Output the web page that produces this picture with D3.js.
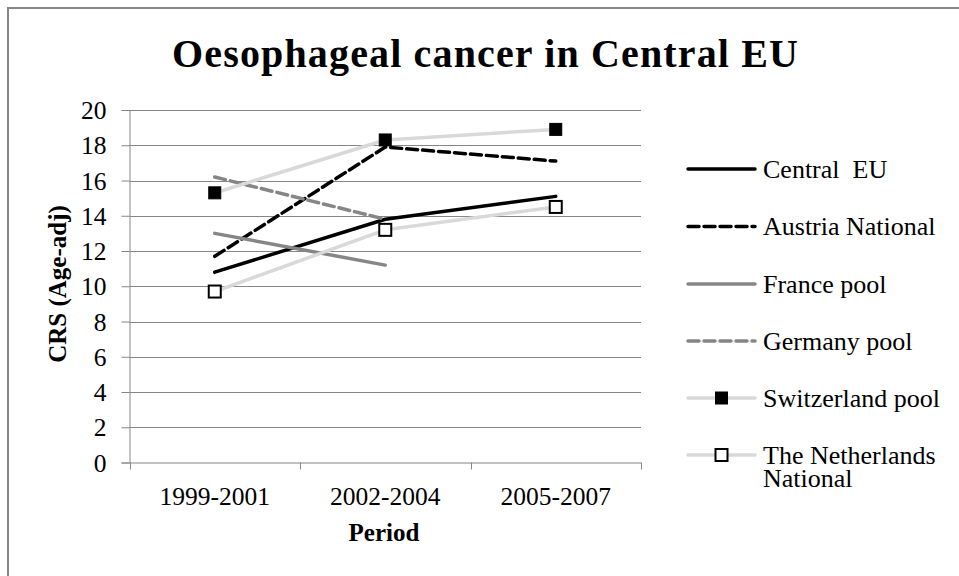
<!DOCTYPE html>
<html>
<head>
<meta charset="utf-8">
<script src="https://cdn.jsdelivr.net/npm/d3@7"></script>
<style>
    body { margin: 0; background: white; }
    text { font-family: "Liberation Serif", "Times New Roman", serif; fill: #000; }
</style>
</head>
<body>
<div id="chart"></div>
<script>
// categories on the x axis
var periods = ["1999-2001", "2002-2004", "2005-2007"]

// y axis ticks
var yTicks = [0, 2, 4, 6, 8, 10, 12, 14, 16, 18, 20]

// series values (null = no value)
var centralEU = [10.8, 13.8, 15.1]
var austriaNational = [11.7, 17.9, 17.1]
var francePool = [13.0, 11.2, null]
var germanyPool = [16.2, 13.8, null]
var switzerlandPool = [15.3, 18.3, 18.9]
var netherlandsNational = [9.7, 13.2, 14.5]

var seriesNames = ["Central  EU", "Austria National", "France pool", "Germany pool", "Switzerland pool", "The Netherlands National"]

// how each series is drawn
var seriesStyles = [
    { values: centralEU, color: "#000000", dash: null, marker: null },
    { values: austriaNational, color: "#000000", dash: "11,5", marker: null },
    { values: francePool, color: "#868686", dash: null, marker: null },
    { values: germanyPool, color: "#868686", dash: "11,5", marker: null },
    { values: switzerlandPool, color: "#d9d9d9", dash: null, marker: "filled" },
    { values: netherlandsNational, color: "#d9d9d9", dash: null, marker: "open" }
]

var width = 959
var height = 576

var svg = d3.select("#chart").append("svg")
    .attr("width", width)
    .attr("height", height)

// outer chart border
svg.append("rect")
    .attr("x", 8).attr("y", 8)
    .attr("width", 970).attr("height", 600)
    .attr("fill", "none")
    .attr("stroke", "#878787")
    .attr("stroke-width", 2)

// plot area
var plotLeft = 129.5, plotRight = 641, plotTop = 110, plotBottom = 462.5

var x = d3.scaleBand().domain(periods).range([plotLeft, plotRight])
var y = d3.scaleLinear().domain([0, 20]).range([plotBottom, plotTop])

function xc(i) {
    return x(periods[i]) + x.bandwidth() / 2
}

// gridlines
svg.append("g")
    .selectAll("line")
    .data(yTicks.slice(1))
    .enter().append("line")
    .attr("x1", plotLeft).attr("x2", plotRight)
    .attr("y1", function(d) { return Math.round(y(d)) + 0.5 })
    .attr("y2", function(d) { return Math.round(y(d)) + 0.5 })
    .attr("stroke", "#868686")
    .attr("stroke-width", 1)

// y axis
var yAxis = svg.append("g")
    .attr("transform", "translate(" + plotLeft + ",0)")
    .call(d3.axisLeft(y).tickValues(yTicks).tickSize(8).tickPadding(15))
yAxis.select(".domain").attr("stroke", "#868686")
yAxis.selectAll(".tick line").attr("stroke", "#868686")
yAxis.selectAll("text")
    .attr("font-size", "25.5px")
    .attr("font-family", "Liberation Serif")
    .attr("dy", "0.34em")

// x axis, ticks sit on the category boundaries
var xAxis = svg.append("g")
    .attr("transform", "translate(0," + plotBottom + ")")
    .call(d3.axisBottom(x).tickSize(0).tickPadding(24))
xAxis.select(".domain").attr("stroke", "#868686")
xAxis.selectAll("text")
    .attr("font-size", "25.5px")
    .attr("font-family", "Liberation Serif")

xAxis.selectAll(".bound")
    .data(d3.range(periods.length + 1))
    .enter().append("line")
    .attr("class", "bound")
    .attr("x1", function(i) { return Math.round(plotLeft + i * x.step()) + 0.5 })
    .attr("x2", function(i) { return Math.round(plotLeft + i * x.step()) + 0.5 })
    .attr("y1", 0).attr("y2", 7)
    .attr("stroke", "#868686")

// lines
var line = d3.line()
    .defined(function(d) { return d != null })
    .x(function(d, i) { return xc(i) })
    .y(function(d) { return y(d) })

seriesStyles.forEach(function(s) {
    svg.append("path")
        .datum(s.values)
        .attr("d", line)
        .attr("fill", "none")
        .attr("stroke", s.color)
        .attr("stroke-width", 3.5)
        .attr("stroke-linecap", "round")
        .attr("stroke-linejoin", "round")
        .attr("stroke-dasharray", s.dash)

    if (s.marker) {
        svg.append("g")
            .selectAll("rect")
            .data(s.values)
            .enter().append("rect")
            .attr("x", function(d, i) { return xc(i) - 6 })
            .attr("y", function(d) { return y(d) - 6 })
            .attr("width", 12).attr("height", 12)
            .attr("fill", s.marker == "filled" ? "#000" : "#fff")
            .attr("stroke", "#000")
            .attr("stroke-width", s.marker == "filled" ? 1 : 2)
    }
})

// title
svg.append("text")
    .attr("x", 485).attr("y", 67)
    .attr("text-anchor", "middle")
    .attr("font-size", "40px")
    .attr("font-weight", "bold")
    .attr("textLength", 626)
    .attr("lengthAdjust", "spacing")
    .text("Oesophageal cancer in Central EU")

// axis titles
svg.append("text")
    .attr("x", 384).attr("y", 541)
    .attr("text-anchor", "middle")
    .attr("font-size", "25px")
    .attr("font-weight", "bold")
    .text("Period")

svg.append("text")
    .attr("transform", "translate(66,284) rotate(-90)")
    .attr("text-anchor", "middle")
    .attr("font-size", "25px")
    .attr("font-weight", "bold")
    .text("CRS (Age-adj)")

// legend
var legendY = [169, 226.5, 284, 341, 398, 455]

var legend = svg.append("g")
seriesStyles.forEach(function(s, i) {
    var ly = legendY[i]
    legend.append("line")
        .attr("x1", 688).attr("x2", 755)
        .attr("y1", ly).attr("y2", ly)
        .attr("stroke", s.color)
        .attr("stroke-width", 3.5)
        .attr("stroke-linecap", "round")
        .attr("stroke-dasharray", s.dash)

    if (s.marker) {
        legend.append("rect")
            .attr("x", 721.5 - 6).attr("y", ly - 6)
            .attr("width", 12).attr("height", 12)
            .attr("fill", s.marker == "filled" ? "#000" : "#fff")
            .attr("stroke", "#000")
            .attr("stroke-width", s.marker == "filled" ? 1 : 2)
    }

    // long name wraps onto a second line, as in the original
    var words = seriesNames[i] == "The Netherlands National" ? ["The Netherlands", "National"] : [seriesNames[i]]
    var label = legend.append("text")
        .attr("y", ly + 8.5)
        .attr("font-size", "26px")
        .attr("xml:space", "preserve")
        .style("white-space", "pre")
    words.forEach(function(w, j) {
        label.append("tspan")
            .attr("x", 763)
            .attr("dy", j == 0 ? 0 : 23.5)
            .text(w)
    })
})
</script>
</body>
</html>
